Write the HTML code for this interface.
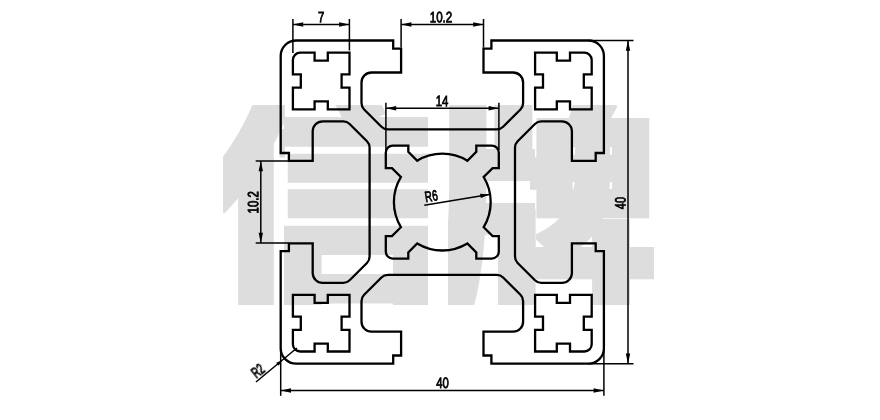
<!DOCTYPE html>
<html lang="zh">
<head>
<meta charset="utf-8">
<title>40×40 profile drawing</title>
<style>
html,body{margin:0;padding:0;background:#fff;}
body{width:880px;height:420px;overflow:hidden;position:relative;}
svg{display:block;position:absolute;left:0;top:0;}
.wm{font-family:"Liberation Sans","Noto Sans CJK SC",sans-serif;font-weight:900;fill:#dddddd;}
.thick{fill:none;stroke:#000;stroke-width:2.3;stroke-linejoin:miter;stroke-linecap:butt;}
.thin{fill:none;stroke:#000;stroke-width:1.5;}
.arr{fill:#000;stroke:none;}
.dim{font-family:"Liberation Sans",sans-serif;fill:#000;stroke:#000;stroke-width:0.85;text-rendering:geometricPrecision;}
</style>
</head>
<body>
<svg width="880" height="420" viewBox="0 0 880 420">
<rect width="880" height="420" fill="#fff"/>
<defs>
<filter id="fat0" x="223.5" y="105.5" width="61.1" height="198.7" filterUnits="userSpaceOnUse"><feMorphology operator="dilate" radius="1 1"/></filter>
<filter id="fat1" x="284.6" y="105.5" width="143.4" height="198.7" filterUnits="userSpaceOnUse"><feMorphology operator="dilate" radius="3 1"/></filter>
<filter id="fat2" x="448.2" y="105.5" width="86" height="198.7" filterUnits="userSpaceOnUse"><feMorphology operator="dilate" radius="2 1"/></filter>
<filter id="fat3" x="530.6" y="105.5" width="122.6" height="198.7" filterUnits="userSpaceOnUse"><feMorphology operator="dilate" radius="5 2"/></filter>
</defs>
<g class="wm">
<g filter="url(#fat0)"><text transform="translate(200.51 291.48) scale(1.2716 1.144)" font-size="200">信</text></g>
<g filter="url(#fat1)"><text transform="translate(189.97 286.64) scale(1.3122 1.1978)" font-size="200">信</text></g>
<g filter="url(#fat2)"><text transform="translate(430.24 297.26) scale(1.3415 1.2313)" font-size="200">牌</text></g>
<g filter="url(#fat3)"><text transform="translate(450.89 300.08) scale(1.0266 1.1779)" font-size="200">牌</text></g>
</g>
<g class="thick">
<path d="M442.3 129.4 L387.83 129.4 A9 9 0 0 1 381.46 126.76 L364.14 109.44 A9 9 0 0 1 361.5 103.07 L361.5 82.5 A10 10 0 0 1 371.5 72.5 L401.1 72.5 L401.1 48.7 L393.2 48.7 L393.2 40.5 L296.2 40.5 A15.5 15.5 0 0 0 280.7 56 L280.7 153 L288.9 153 L288.9 160.9 L312.7 160.9 L312.7 131.3 A10 10 0 0 1 322.7 121.3 L343.27 121.3 A9 9 0 0 1 349.64 123.94 L366.96 141.26 A9 9 0 0 1 369.6 147.63 L369.6 202.1 L369.6 256.57 A9 9 0 0 1 366.96 262.94 L349.64 280.26 A9 9 0 0 1 343.27 282.9 L322.7 282.9 A10 10 0 0 1 312.7 272.9 L312.7 243.3 L288.9 243.3 L288.9 251.2 L280.7 251.2 L280.7 348.2 A15.5 15.5 0 0 0 296.2 363.7 L393.2 363.7 L393.2 355.5 L401.1 355.5 L401.1 331.7 L371.5 331.7 A10 10 0 0 1 361.5 321.7 L361.5 301.13 A9 9 0 0 1 364.14 294.76 L381.46 277.44 A9 9 0 0 1 387.83 274.8 L442.3 274.8 L496.77 274.8 A9 9 0 0 1 503.14 277.44 L520.46 294.76 A9 9 0 0 1 523.1 301.13 L523.1 321.7 A10 10 0 0 1 513.1 331.7 L483.5 331.7 L483.5 355.5 L491.4 355.5 L491.4 363.7 L588.4 363.7 A15.5 15.5 0 0 0 603.9 348.2 L603.9 251.2 L595.7 251.2 L595.7 243.3 L571.9 243.3 L571.9 272.9 A10 10 0 0 1 561.9 282.9 L541.33 282.9 A9 9 0 0 1 534.96 280.26 L517.64 262.94 A9 9 0 0 1 515 256.57 L515 202.1 L515 147.63 A9 9 0 0 1 517.64 141.26 L534.96 123.94 A9 9 0 0 1 541.33 121.3 L561.9 121.3 A10 10 0 0 1 571.9 131.3 L571.9 160.9 L595.7 160.9 L595.7 153 L603.9 153 L603.9 56 A15.5 15.5 0 0 0 588.4 40.5 L491.4 40.5 L491.4 48.7 L483.5 48.7 L483.5 72.5 L513.1 72.5 A10 10 0 0 1 523.1 82.5 L523.1 103.07 A9 9 0 0 1 520.46 109.44 L503.14 126.76 A9 9 0 0 1 496.77 129.4 L442.3 129.4 Z"/>
<path d="M300.2 52.7 L314.6 52.7 L314.6 60.6 L327.8 60.6 L327.8 52.7 L349.5 52.7 L349.5 74.4 L341.6 74.4 L341.6 87.6 L349.5 87.6 L349.5 109.3 L327.8 109.3 L327.8 101.4 L314.6 101.4 L314.6 109.3 L292.9 109.3 L292.9 87.6 L300.8 87.6 L300.8 74.4 L292.9 74.4 L292.9 60 A7.3 7.3 0 0 1 300.2 52.7 Z"/>
<path d="M584.4 52.7 L570 52.7 L570 60.6 L556.8 60.6 L556.8 52.7 L535.1 52.7 L535.1 74.4 L543 74.4 L543 87.6 L535.1 87.6 L535.1 109.3 L556.8 109.3 L556.8 101.4 L570 101.4 L570 109.3 L591.7 109.3 L591.7 87.6 L583.8 87.6 L583.8 74.4 L591.7 74.4 L591.7 60 A7.3 7.3 0 0 0 584.4 52.7 Z"/>
<path d="M300.2 351.5 L314.6 351.5 L314.6 343.6 L327.8 343.6 L327.8 351.5 L349.5 351.5 L349.5 329.8 L341.6 329.8 L341.6 316.6 L349.5 316.6 L349.5 294.9 L327.8 294.9 L327.8 302.8 L314.6 302.8 L314.6 294.9 L292.9 294.9 L292.9 316.6 L300.8 316.6 L300.8 329.8 L292.9 329.8 L292.9 344.2 A7.3 7.3 0 0 0 300.2 351.5 Z"/>
<path d="M584.4 351.5 L570 351.5 L570 343.6 L556.8 343.6 L556.8 351.5 L535.1 351.5 L535.1 329.8 L543 329.8 L543 316.6 L535.1 316.6 L535.1 294.9 L556.8 294.9 L556.8 302.8 L570 302.8 L570 294.9 L591.7 294.9 L591.7 316.6 L583.8 316.6 L583.8 329.8 L591.7 329.8 L591.7 344.2 A7.3 7.3 0 0 1 584.4 351.5 Z"/>
<path d="M400.91 177.01 L392 168.1 L385.8 168.1 L385.8 152.6 A7 7 0 0 1 392.8 145.6 L408.3 145.6 L408.3 151.8 L417.21 160.71 A48.4 48.4 0 0 1 467.39 160.71 L476.3 151.8 L476.3 145.6 L491.8 145.6 A7 7 0 0 1 498.8 152.6 L498.8 168.1 L492.6 168.1 L483.69 177.01 A48.4 48.4 0 0 1 483.69 227.19 L492.6 236.1 L498.8 236.1 L498.8 251.6 A7 7 0 0 1 491.8 258.6 L476.3 258.6 L476.3 252.4 L467.39 243.49 A48.4 48.4 0 0 1 417.21 243.49 L408.3 252.4 L408.3 258.6 L392.8 258.6 A7 7 0 0 1 385.8 251.6 L385.8 236.1 L392 236.1 L400.91 227.19 A48.4 48.4 0 0 1 400.91 177.01 Z"/>
</g>
<g class="thin">
<line x1="292.9" y1="19" x2="292.9" y2="53"/>
<line x1="349.4" y1="19" x2="349.4" y2="50.5"/>
<line x1="292.9" y1="24.5" x2="349.4" y2="24.5"/>
<line x1="401.1" y1="19" x2="401.1" y2="47.6"/>
<line x1="483.5" y1="19" x2="483.5" y2="47.6"/>
<line x1="401.1" y1="24.5" x2="483.5" y2="24.5"/>
<line x1="385.9" y1="102.7" x2="385.9" y2="150"/>
<line x1="498.9" y1="102.7" x2="498.9" y2="150"/>
<line x1="385.9" y1="108.3" x2="498.9" y2="108.3"/>
<line x1="255.7" y1="161" x2="288.5" y2="161"/>
<line x1="255.7" y1="243" x2="288.5" y2="243"/>
<line x1="260.8" y1="161" x2="260.8" y2="243"/>
<line x1="588.4" y1="40.5" x2="633.5" y2="40.5"/>
<line x1="588.4" y1="363.7" x2="633.5" y2="363.7"/>
<line x1="628" y1="40.5" x2="628" y2="363.7"/>
<line x1="280.7" y1="348.2" x2="280.7" y2="395.8"/>
<line x1="603.9" y1="348.2" x2="603.9" y2="395.8"/>
<line x1="280.7" y1="390.5" x2="603.9" y2="390.5"/>
<line x1="424.3" y1="205.3" x2="489.3" y2="194.5"/>
<line x1="256" y1="382" x2="296.9" y2="348"/>
</g>
<g class="arr">
<polygon points="292.9,24.5 303.2,22.3 303.2,26.7"/>
<polygon points="349.4,24.5 339.1,26.7 339.1,22.3"/>
<polygon points="401.1,24.5 411.4,22.3 411.4,26.7"/>
<polygon points="483.5,24.5 473.2,26.7 473.2,22.3"/>
<polygon points="385.9,108.3 396.2,106.1 396.2,110.5"/>
<polygon points="498.9,108.3 488.6,110.5 488.6,106.1"/>
<polygon points="260.8,161 263,171.3 258.6,171.3"/>
<polygon points="260.8,243 258.6,232.7 263,232.7"/>
<polygon points="628,40.5 630.2,50.8 625.8,50.8"/>
<polygon points="628,363.7 625.8,353.4 630.2,353.4"/>
<polygon points="280.7,390.5 291,388.3 291,392.7"/>
<polygon points="603.9,390.5 593.6,392.7 593.6,388.3"/>
<polygon points="489.8,194.4 480.79,198.12 480.07,193.78"/>
<polygon points="282,360.4 278.6,365.69 276.17,362.77"/>
</g>
<g class="dim" opacity="0.999">
<text transform="translate(317.89 22.16) rotate(0.05) scale(0.756 1)" font-size="15.0" text-anchor="start">7</text>
<text transform="translate(429.67 22.23) rotate(0.05) scale(0.775 1)" font-size="15.0" text-anchor="start">10.2</text>
<text transform="translate(435.73 106.12) rotate(0.05) scale(0.758 1)" font-size="15.0" text-anchor="start">14</text>
<text transform="translate(258.34 213.4) rotate(-89.95) scale(0.757 1)" font-size="15.0" text-anchor="start">10.2</text>
<text transform="translate(625.41 209.21) rotate(-89.95) scale(0.734 1)" font-size="15.0" text-anchor="start">40</text>
<text transform="translate(436.23 388.05) rotate(0.05) scale(0.756 1)" font-size="15.0" text-anchor="start">40</text>
<text transform="translate(425.86 202.24) rotate(-9.8) scale(0.664 1)" font-size="15.0" text-anchor="start">R6</text>
<text transform="translate(256.3 378.71) rotate(-39) scale(0.64 1)" font-size="15.0" text-anchor="start">R2</text>
</g>
</svg>
</body>
</html>
